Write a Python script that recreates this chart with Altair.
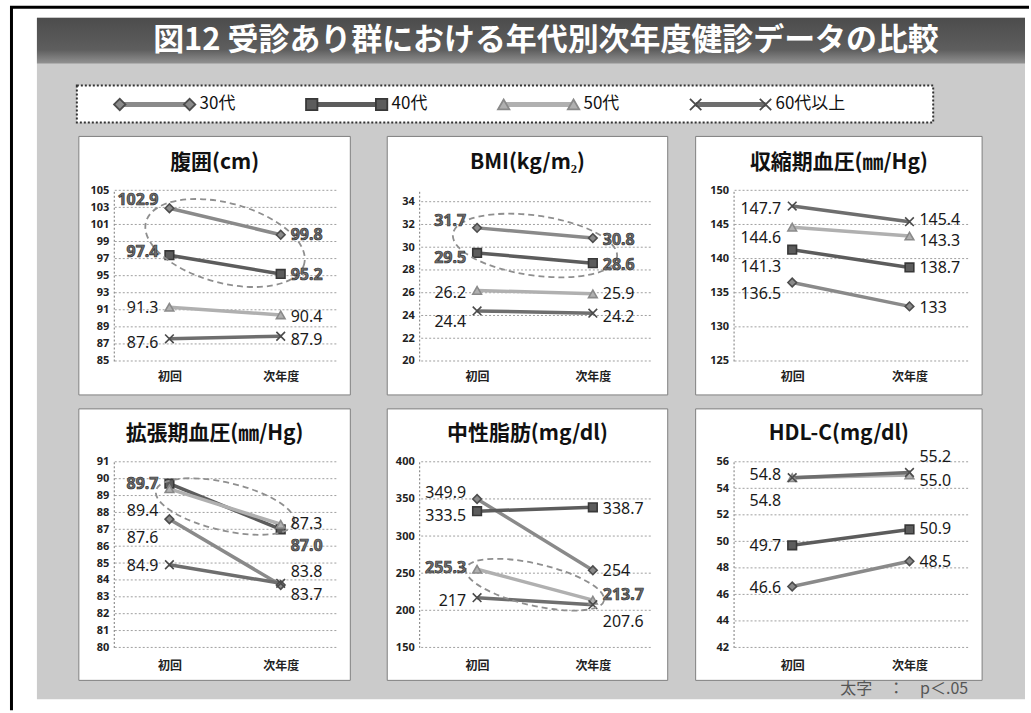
import altair as alt
import pandas as pd

# ---- data -------------------------------------------------------------
series = ["30代", "40代", "50代", "60代以上"]
visits = ["初回", "次年度"]

# printed values per age band (30代, 40代, 50代, 60代以上)
waist_first = ["102.9", "97.4", "91.3", "87.6"]
waist_next = ["99.8", "95.2", "90.4", "87.9"]
bmi_first = ["31.7", "29.5", "26.2", "24.4"]
bmi_next = ["30.8", "28.6", "25.9", "24.2"]
sbp_first = ["136.5", "141.3", "144.6", "147.7"]
sbp_next = ["133", "138.7", "143.3", "145.4"]
dbp_first = ["87.6", "89.7", "89.4", "84.9"]
dbp_next = ["83.7", "87.0", "87.3", "83.8"]
tg_first = ["349.9", "333.5", "255.3", "217"]
tg_next = ["254", "338.7", "213.7", "207.6"]
hdl_first = ["46.6", "49.7", "54.8", "54.8"]
hdl_next = ["48.5", "50.9", "55.0", "55.2"]

# axis tick labels
waist_ticks = [85, 87, 89, 91, 93, 95, 97, 99, 101, 103, 105]
bmi_ticks = [20, 22, 24, 26, 28, 30, 32, 34]
sbp_ticks = [125, 130, 135, 140, 145, 150]
dbp_ticks = [80, 81, 82, 83, 84, 85, 86, 87, 88, 89, 90, 91]
tg_ticks = [150, 200, 250, 300, 350, 400]
hdl_ticks = [42, 44, 46, 48, 50, 52, 54, 56]

# ---- styles -----------------------------------------------------------
JP = "Noto Sans CJK JP"
NUM = "Noto Sans"
LINE_COLORS = ["#8a8a8a", "#5c5c5c", "#b0b0b0", "#6e6e6e"]
EDGE_COLORS = ["#4d4d4d", "#383838", "#8a8a8a", "#4a4a4a"]
MARKERS = ["diamond", "square", "triangle-up", "M-1,-1L1,1M-1,1L1,-1"]

line_scale = alt.Scale(domain=series, range=LINE_COLORS)
fill_scale = alt.Scale(domain=series, range=LINE_COLORS)
edge_scale = alt.Scale(domain=series, range=EDGE_COLORS)
shape_scale = alt.Scale(domain=series, range=MARKERS)

COL_W = [223, 232, 235]
ROW_H = [171, 186]
BOX_X = [(-35, 237), (-32, 249), (-38, 249)]
BOX_Y = [(-54, 205), (-53, 219)]
HEAD_Y = [-27, -28]
XLAB_PAD = [11, 13]

# label nudges (px, vertical) keep neighbouring value labels apart
panels = [
    dict(title="腹囲(cm)", first=waist_first, next=waist_next, ticks=waist_ticks,
         domain=[85, 105], sig=["30代", "40代"],
         nudge_first=[-8, -3, 1, 4], nudge_next=[0, 1, 2, 4], ellipse=(82, 40, 15)),
    dict(title="BMI(kg/m₂)", first=bmi_first, next=bmi_next, ticks=bmi_ticks,
         domain=[20, 35], sig=["30代", "40代"],
         nudge_first=[-7, 5, 3, 11], nudge_next=[2, 2, 0, 4], ellipse=(83, 30, 8)),
    dict(title="収縮期血圧(㎜/Hg)", first=sbp_first, next=sbp_next, ticks=sbp_ticks,
         domain=[125, 150], sig=[],
         nudge_first=[12, 17, 11, 3], nudge_next=[2, 1, 5, -2], ellipse=None),
    dict(title="拡張期血圧(㎜/Hg)", first=dbp_first, next=dbp_next, ticks=dbp_ticks,
         domain=[80, 91], sig=["40代"],
         nudge_first=[19, 0, 22, 1], nudge_next=[10, 17, 0, -11], ellipse=(71, 24, 13)),
    dict(title="中性脂肪(mg/dl)", first=tg_first, next=tg_next, ticks=tg_ticks,
         domain=[150, 400], sig=["50代"],
         nudge_first=[-6, 5, -1, 3], nudge_next=[1, 2, -5, 17], ellipse=(71, 21, 13)),
    dict(title="HDL-C(mg/dl)", first=hdl_first, next=hdl_next, ticks=hdl_ticks,
         domain=[42, 56], sig=[],
         nudge_first=[2, 1, 23, -3], nudge_next=[1, 0, 6, -15], ellipse=None),
]

one_row = pd.DataFrame({"k": [0]})


def ellipse_path(k):
    c = 0.5523
    return (f"M1,0 C1,{c*k:.4f} {c},{k:.4f} 0,{k:.4f} "
            f"C{-c},{k:.4f} -1,{c*k:.4f} -1,0 "
            f"C-1,{-c*k:.4f} {-c},{-k:.4f} 0,{-k:.4f} "
            f"C{c},{-k:.4f} 1,{-c*k:.4f} 1,0 Z")


def panel_layers(idx, p):
    col, row = idx % 3, idx // 3
    w = COL_W[col]
    bx0, bx1 = BOX_X[col]
    by0, by1 = BOX_Y[row]

    recs = []
    for i, s in enumerate(series):
        for visit, labels, nudges in ((visits[0], p["first"], p["nudge_first"]),
                                      (visits[1], p["next"], p["nudge_next"])):
            recs.append(dict(series=s, visit=visit, value=float(labels[i]),
                             label=labels[i], nudge=nudges[i], sig=s in p["sig"]))
    df = pd.DataFrame(recs)

    x_enc = alt.X("visit:N",
                  scale=alt.Scale(type="point", domain=visits, padding=0.5),
                  axis=alt.Axis(title=None, domain=False, ticks=False, tickSize=0,
                                labelPadding=XLAB_PAD[row], labelAngle=0,
                                labelFont=JP, labelFontSize=12, labelFontWeight="bold",
                                labelColor="#222", zindex=1))
    y_axis = alt.Axis(title=None, values=p["ticks"], grid=False, ticks=False, tickSize=0,
                      domain=True, domainColor="#777", domainDash=[2, 2], domainWidth=1,
                      labelPadding=5, labelFont=NUM, labelFontSize=11,
                      labelFontWeight="bold", labelColor="#222", zindex=1)
    y_scale = alt.Scale(domain=p["domain"], nice=False, zero=False)
    y_enc = alt.Y("value:Q", scale=y_scale, axis=y_axis)

    box = alt.Chart(one_row).mark_rect(fill="white", stroke="#808080", strokeWidth=1).encode(
        x=alt.value(bx0), x2=alt.value(bx1), y=alt.value(by0), y2=alt.value(by1))
    heading = alt.Chart(one_row).mark_text(
        text=p["title"], font=JP, fontSize=21, fontWeight="bold", color="#111",
        baseline="middle").encode(x=alt.value((bx0 + bx1) / 2), y=alt.value(HEAD_Y[row]))
    grid = alt.Chart(pd.DataFrame({"value": p["ticks"]})).mark_rule(
        color="#a0a0a0", strokeDash=[2, 2], strokeWidth=1).encode(y=y_enc)
    lines = alt.Chart(df).mark_line(strokeWidth=3.5).encode(
        x=x_enc, y=y_enc, color=alt.Color("series:N", scale=line_scale, legend=None))
    points = alt.Chart(df).mark_point(filled=True, size=75, opacity=1, strokeWidth=1.6).encode(
        x=x_enc, y=y_enc,
        shape=alt.Shape("series:N", scale=shape_scale, legend=None),
        fill=alt.Fill("series:N", scale=fill_scale, legend=None),
        stroke=alt.Stroke("series:N", scale=edge_scale, legend=None))

    layers = [box, heading, grid, lines, points]

    if p["ellipse"]:
        a, b, ang = p["ellipse"]
        ell = alt.Chart(df[df["sig"]]).mark_point(
            shape=ellipse_path(b / a), size=(2 * a) ** 2, angle=ang, filled=False,
            stroke="#8f8f8f", strokeWidth=1.8, strokeDash=[6, 4], opacity=1).encode(
            x=alt.value(w / 2),
            y=alt.Y("mean(value):Q", scale=y_scale, axis=y_axis))
        layers.append(ell)

    for visit, align, dx in ((visits[0], "right", -11), (visits[1], "left", 10)):
        for bold in (False, True):
            sub = df[(df["visit"] == visit) & (df["sig"] == bold)]
            if sub.empty:
                continue
            style = dict(align=align, dx=dx, dy={"expr": "datum.nudge"}, baseline="middle",
                         font=NUM, fontSize=16)
            if bold:
                style.update(fontWeight="bold", fill="#707070", stroke="#2e2e2e", strokeWidth=0.7)
            else:
                style.update(color="#1a1a1a")
            layers.append(alt.Chart(sub).mark_text(**style).encode(
                x=x_enc, y=y_enc, text="label:N"))
    return layers


# ---- page header: background, frame, title bar and legend --------------
bar_fill = alt.LinearGradient(
    gradient="linear", x1=0, x2=0, y1=0, y2=1,
    stops=[alt.GradientStop(offset=0, color="#4c4c4c"),
           alt.GradientStop(offset=0.7, color="#5e5e5e"),
           alt.GradientStop(offset=1, color="#929292")])

backdrop = alt.Chart(one_row).mark_rect(fill="#cbcbcb").encode(
    x=alt.value(-77), x2=alt.value(913), y=alt.value(-173), y2=alt.value(510))
frame_left = alt.Chart(one_row).mark_rule(color="black", strokeWidth=3).encode(
    x=alt.value(-102.5), y=alt.value(-183.5), y2=alt.value(521))
frame_top = alt.Chart(one_row).mark_rule(color="black", strokeWidth=3).encode(
    x=alt.value(-104), x2=alt.value(917), y=alt.value(-183.5))
title_bar = alt.Chart(one_row).mark_rect(fill=bar_fill).encode(
    x=alt.value(-77), x2=alt.value(913), y=alt.value(-173), y2=alt.value(-127))
title_text = alt.Chart(one_row).mark_text(
    text="図12 受診あり群における年代別次年度健診データの比較",
    font=JP, fontSize=31, fontWeight="bold", color="white", baseline="middle").encode(
    x=alt.value(433), y=alt.value(-150))
legend_box = alt.Chart(one_row).mark_rect(
    fill="white", stroke="#333", strokeDash=[2, 2], strokeWidth=2).encode(
    x=alt.value(-37), x2=alt.value(821), y=alt.value(-105), y2=alt.value(-68))

legend_df = pd.DataFrame({"series": series})
lx = alt.X("series:N", scale=alt.Scale(type="point", domain=series, range=[41, 618], padding=0),
           axis=None)
LY = -86
legend_line = alt.Chart(legend_df).mark_rule(strokeWidth=5, xOffset=-35, x2Offset=35).encode(
    x=lx, x2=alt.X2("series"), y=alt.value(LY),
    color=alt.Color("series:N", scale=line_scale, legend=None))
legend_marks = [
    alt.Chart(legend_df).mark_point(filled=True, size=130, opacity=1, strokeWidth=1.8,
                                    xOffset=off).encode(
        x=lx, y=alt.value(LY),
        shape=alt.Shape("series:N", scale=shape_scale, legend=None),
        fill=alt.Fill("series:N", scale=fill_scale, legend=None),
        stroke=alt.Stroke("series:N", scale=edge_scale, legend=None))
    for off in (-35, 35)
]
legend_text = alt.Chart(legend_df).mark_text(
    align="left", dx=45, baseline="middle", font=JP, fontSize=17, color="#111").encode(
    x=lx, y=alt.value(LY), text="series:N")

header = alt.layer(backdrop, frame_left, frame_top, title_bar, title_text, legend_box,
                   legend_line, *legend_marks, legend_text)

footnote = alt.Chart(one_row).mark_text(
    text="太字　：　p＜.05", align="right", baseline="middle", font=JP, fontSize=16,
    color="#555").encode(x=alt.value(235), y=alt.value(228))

charts = []
for idx, p in enumerate(panels):
    col, row = idx % 3, idx // 3
    layers = panel_layers(idx, p)
    if idx == 5:
        layers.append(footnote)
    content = alt.layer(*layers)
    if idx == 0:
        c = alt.layer(header, content).resolve_scale(x="independent")
    else:
        c = content
    charts.append(c.properties(width=COL_W[col], height=ROW_H[row]))

chart = alt.concat(
    *charts, columns=3, spacing={"row": 101, "column": 83}, bounds="flush", align="each"
).properties(
    padding={"left": 8, "top": 5, "right": 0, "bottom": 0},
    background="white",
).configure_view(stroke=None)

chart.save("out.html", embed_options={"renderer": "svg", "actions": False})
